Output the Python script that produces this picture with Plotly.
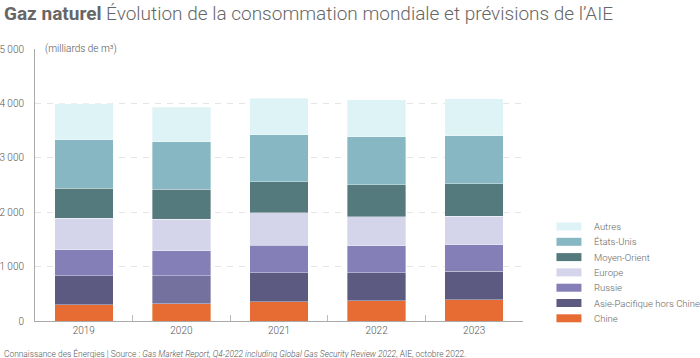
import plotly.graph_objects as go

years = ["2019", "2020", "2021", "2022", "2023"]
series_names = ["Chine", "Asie-Pacifique hors Chine", "Russie", "Europe", "Moyen-Orient", "États-Unis", "Autres"]
chine = [295, 319, 356, 368, 387]
asie_pacifique = [534, 515, 534, 522, 528]
russie = [478, 455, 504, 491, 485]
europe = [584, 577, 595, 540, 528]
moyen_orient = [545, 552, 571, 584, 595]
etats_unis = [897, 873, 865, 884, 878]
autres = [657, 637, 669, 675, 682]
y_tickvals = [0, 1000, 2000, 3000, 4000, 5000]
y_ticktext = ["0", "1 000", "2 000", "3 000", "4 000", "5 000"]

values = [chine, asie_pacifique, russie, europe, moyen_orient, etats_unis, autres]
colors = ["#e66c33", "#5c5a80", "#857fb7", "#d4d4ea", "#557a7e", "#86b7c2", "#def3f6"]
asie_colors = ["#5c5a80", "#75719f", "#5c5a80", "#5c5a80", "#5c5a80"]

W, H = 700, 358
L, R, T, B = 35, 176.5, 49, 37
pw, ph = W - L - R, H - T - B

def px(x):
    return (x - L) / pw

def py(y):
    return (H - B - y) / ph

fig = go.Figure()
for name, vals, col in zip(series_names, values, colors):
    mc = asie_colors if name == "Asie-Pacifique hors Chine" else col
    fig.add_trace(go.Bar(
        x=years, y=vals, name=name,
        marker=dict(color=mc, line=dict(color="rgba(255,255,255,0.6)", width=0.6)),
        showlegend=False,
    ))

font = "Roboto, 'Open Sans', sans-serif"
light = dict(family=font, weight=300)

annotations = [
    dict(text="<b>Gaz naturel</b> Évolution de la consommation mondiale et prévisions de l’AIE",
         xref="paper", yref="paper", x=px(2), y=py(13), xanchor="left", yanchor="middle",
         showarrow=False, font=dict(size=19, color="#666666", **light)),
    dict(text="(milliards de m³)", xref="paper", yref="y", x=px(43), y=5000,
         xanchor="left", yanchor="middle", showarrow=False,
         font=dict(size=10, color="#555555", **light)),
    dict(text="Connaissance des Énergies | Source : <i>Gas Market Report, Q4-2022 including Global Gas Security Review 2022</i>, AIE, octobre 2022.",
         xref="paper", yref="paper", x=px(2), y=py(353), xanchor="left", yanchor="middle",
         showarrow=False, font=dict(size=8.4, color="#555555", **light)),
]

shapes = []
leg_top = 226.5
step = 15.3
for i, (name, col) in enumerate(zip(reversed(series_names), reversed(colors))):
    yc = leg_top + i * step
    shapes.append(dict(type="rect", xref="paper", yref="paper",
                       x0=px(557), x1=px(582), y0=py(yc - 4), y1=py(yc + 4),
                       fillcolor=col, line=dict(width=0)))
    annotations.append(dict(text=name, xref="paper", yref="paper", x=px(593), y=py(yc),
                            xanchor="left", yanchor="middle", showarrow=False,
                            font=dict(size=9.5, color="#666666", **light)))

fig.update_layout(
    width=W, height=H,
    margin=dict(l=L, r=R, t=T, b=B, pad=0, autoexpand=False),
    barmode="stack", bargap=0.4,
    plot_bgcolor="white", paper_bgcolor="white",
    font=dict(size=10, color="#555555", **light),
    annotations=annotations, shapes=shapes,
    xaxis=dict(showline=True, linecolor="#aaaaaa", linewidth=1, automargin=False,
               ticks="inside", tickson="boundaries", ticklen=6, tickcolor="#bbbbbb",
               showgrid=False, tickfont=dict(size=10, color="#555555", **light), fixedrange=True),
    yaxis=dict(range=[0, 5000], tickvals=y_tickvals, ticktext=y_ticktext, automargin=False,
               showline=True, linecolor="#aaaaaa", linewidth=1,
               showgrid=True, gridcolor="#e4e4e4", griddash="6px,6px", gridwidth=1,
               zeroline=False, ticks="", ticklabelstandoff=8,
               tickfont=dict(size=10, color="#555555", **light), fixedrange=True),
)

fig.write_html("out.html", config={"displayModeBar": False},
               post_script=["document.body.style.margin='0px';"])
